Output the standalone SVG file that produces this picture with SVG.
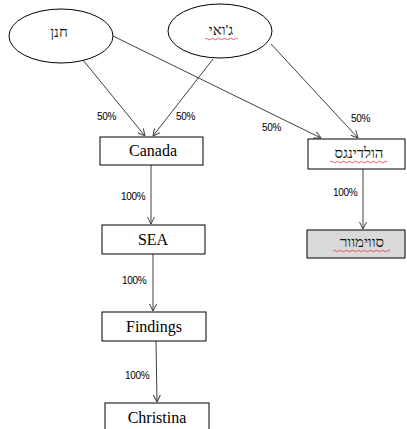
<svg xmlns="http://www.w3.org/2000/svg" width="407" height="429" viewBox="0 0 407 429">
<defs>
<style>
.n{fill:#fff;stroke:#000;stroke-width:1}
.g{fill:#d9d9d9;stroke:#000;stroke-width:1}
.t{font-family:"Liberation Serif","Times New Roman",serif;font-size:16px;fill:#000;text-anchor:middle}
.h{font-family:"Liberation Serif","DejaVu Sans",serif;font-size:15px;fill:#111;text-anchor:middle}
.l{font-family:"Liberation Sans",Arial,sans-serif;font-size:10px;fill:#000;letter-spacing:-0.3px}
.e{stroke:#404040;stroke-width:1;fill:none;marker-end:url(#a)}
.w{stroke:#e03030;stroke-width:0.8;fill:none}
</style>
<marker id="a" viewBox="0 0 8 8" refX="7.5" refY="4" markerWidth="8" markerHeight="8" markerUnits="userSpaceOnUse" orient="auto">
<path d="M0.5,0.5 L7.5,4 L0.5,7.5" fill="none" stroke="#404040" stroke-width="1"/>
</marker>
</defs>
<rect width="407" height="429" fill="#fff"/>
<g id="connectors">
<line class="e" x1="83" y1="60" x2="145" y2="136"/>
<line class="e" x1="213" y1="59" x2="153" y2="136"/>
<line class="e" x1="113" y1="36" x2="321" y2="138"/>
<line class="e" x1="271" y1="44" x2="358" y2="138"/>
<line class="e" x1="363" y1="169" x2="363" y2="229"/>
<line class="e" x1="151" y1="165" x2="151" y2="224"/>
<line class="e" x1="153" y1="254" x2="153" y2="311"/>
<line class="e" x1="156" y1="341" x2="157" y2="402"/>
<text class="l" x="97" y="120">50%</text>
<text class="l" x="176" y="120">50%</text>
<text class="l" x="262" y="131">50%</text>
<text class="l" x="351" y="122">50%</text>
<text class="l" x="333" y="196">100%</text>
<text class="l" x="121" y="200">100%</text>
<text class="l" x="122" y="284">100%</text>
<text class="l" x="125" y="379">100%</text>
</g>
<g id="hanan">
<ellipse class="n" cx="61" cy="36" rx="52" ry="27"/>
<text class="h" x="59" y="37">חנן</text>
</g>
<g id="joey">
<ellipse class="n" cx="220" cy="31" rx="52" ry="27"/>
<text class="h" x="221" y="35">ג'ואי</text>
<path class="w" d="M205,39 q1.5,-1.5 3,0 t3,0 t3,0 t3,0 t3,0 t3,0 t3,0 t3,0 t3,0 t3,0 t3,0"/>
</g>
<g id="canada">
<rect class="n" x="100" y="137" width="103" height="28"/>
<text class="t" x="153" y="156">Canada</text>
</g>
<g id="holdings">
<rect class="n" x="308" y="139" width="97" height="30"/>
<text class="h" x="359" y="158">הולדינגס</text>
<path class="w" d="M330,162 q1.5,-1.5 3,0 t3,0 t3,0 t3,0 t3,0 t3,0 t3,0 t3,0 t3,0 t3,0 t3,0 t3,0 t3,0 t3,0 t3,0 t3,0 t3,0 t3,0 t3,0"/>
</g>
<g id="swimwear">
<rect class="g" x="307" y="230" width="98" height="28"/>
<text class="h" x="362" y="247">סווימוור</text>
<path class="w" d="M333,251 q1.5,-1.5 3,0 t3,0 t3,0 t3,0 t3,0 t3,0 t3,0 t3,0 t3,0 t3,0 t3,0 t3,0 t3,0 t3,0 t3,0 t3,0 t3,0 t3,0 t3,0"/>
</g>
<g id="sea">
<rect class="n" x="102" y="225" width="103" height="29"/>
<text class="t" x="153" y="245">SEA</text>
</g>
<g id="findings">
<rect class="n" x="102" y="312" width="104" height="29"/>
<text class="t" x="154" y="332">Findings</text>
</g>
<g id="christina">
<rect class="n" x="105" y="403" width="104" height="30"/>
<text class="t" x="157" y="423">Christina</text>
</g>
</svg>
